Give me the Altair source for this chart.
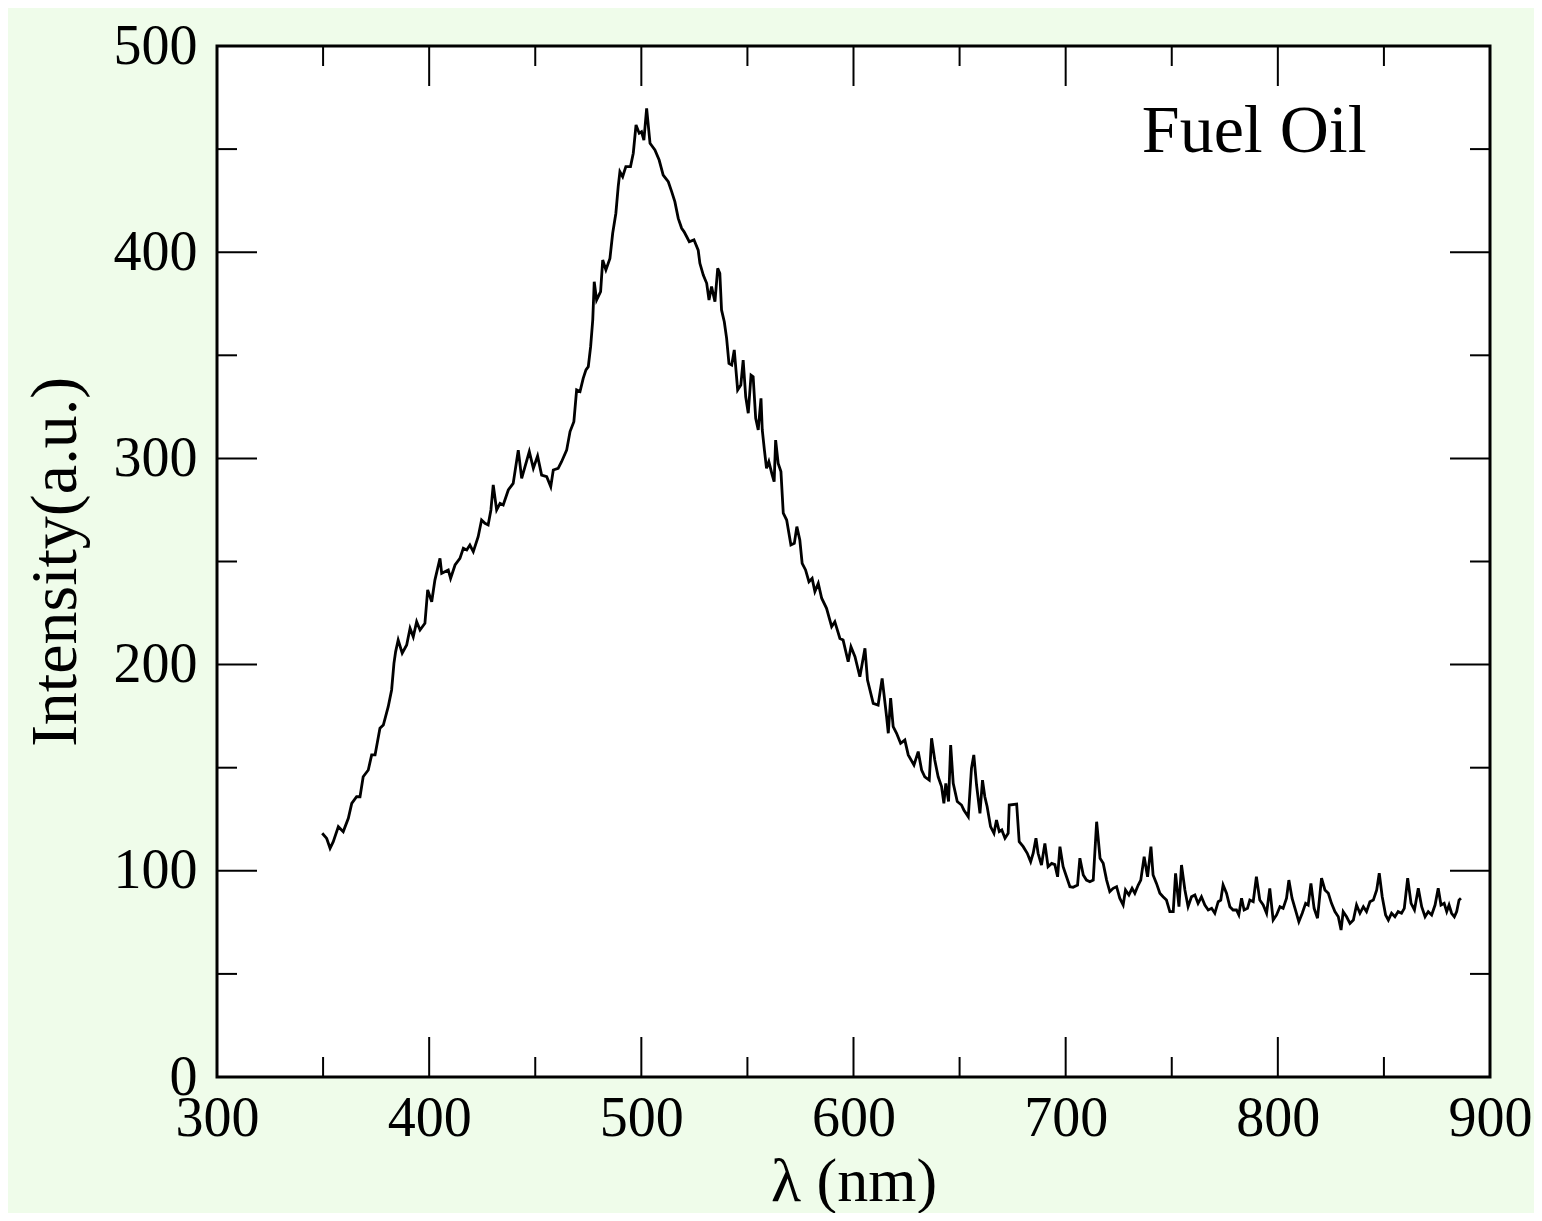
import altair as alt
import pandas as pd

wavelength = [
    349.6, 351.7, 353.3, 354.8, 357.2, 359.5, 361.9, 363.5, 365.8, 367.4,
    368.9, 371.3, 372.9, 374.5, 376.8, 378.4, 380.7, 382.3, 383.4, 384.2,
    385.4, 387.3, 389.4, 391.0, 392.5, 394.1, 395.7, 398.0, 399.3, 401.2,
    402.7, 405.1, 405.9, 409.0, 410.1, 412.2, 414.5, 416.1, 417.7, 419.2,
    420.8, 423.1, 424.7, 426.3, 427.8, 429.1, 430.2, 431.8, 433.4, 434.9,
    437.3, 439.6, 442.0, 443.6, 447.2, 449.1, 451.1, 453.0, 455.4, 457.3,
    458.5, 460.8, 462.4, 464.8, 466.4, 468.2, 469.5, 471.1, 472.6, 473.9,
    475.0, 476.1, 477.1, 477.8, 478.9, 480.8, 481.8, 483.3, 485.2, 486.5,
    488.0, 489.1, 489.9, 491.2, 492.7, 494.9, 496.2, 497.5, 499.0, 500.1,
    501.2, 502.5, 504.1, 506.4, 508.4, 510.3, 512.7, 514.3, 515.8, 517.4,
    519.0, 520.1, 521.4, 522.6, 524.8, 526.8, 527.6, 529.2, 530.8, 531.9,
    533.1, 534.7, 536.0, 537.0, 537.8, 539.1, 540.2, 541.3, 542.6, 543.8,
    545.4, 546.9, 548.0, 549.2, 550.4, 551.7, 552.7, 553.9, 555.1, 556.4,
    557.0, 558.0, 559.0, 560.1, 561.7, 562.6, 563.3, 564.5, 565.8, 566.9,
    568.5, 570.5, 572.1, 573.3, 574.7, 575.8, 577.4, 579.0, 580.5, 581.8,
    583.4, 585.0, 587.3, 589.7, 591.2, 593.6, 595.1, 597.5, 598.8, 600.7,
    603.0, 605.4, 606.6, 609.3, 611.6, 613.5, 615.6, 616.4, 617.5, 618.7,
    620.3, 622.2, 624.2, 625.8, 628.5, 630.5, 632.1, 633.6, 635.7, 636.8,
    638.3, 639.9, 641.5, 642.6, 643.5, 644.8, 645.8, 647.0, 648.9, 650.9,
    652.0, 654.1, 655.6, 656.7, 658.0, 659.6, 660.8, 661.9, 663.0, 664.6,
    666.2, 667.4, 668.7, 669.9, 671.4, 672.9, 673.4, 676.9, 678.1, 680.0,
    681.9, 683.5, 684.7, 686.0, 687.0, 688.6, 690.2, 691.7, 693.4, 694.9,
    696.2, 697.3, 698.8, 700.4, 702.0, 703.5, 705.6, 706.7, 708.3, 709.8,
    711.4, 713.0, 714.6, 716.2, 717.7, 719.3, 720.8, 722.4, 724.0, 725.5,
    727.1, 728.2, 729.8, 731.3, 732.6, 734.2, 735.4, 737.0, 738.6, 740.2,
    741.2, 742.8, 744.4, 745.9, 747.5, 749.1, 750.7, 751.8, 753.4, 754.6,
    756.2, 757.7, 759.3, 760.9, 762.4, 764.0, 765.6, 767.2, 768.8, 770.3,
    771.9, 773.1, 774.2, 775.8, 777.4, 778.9, 780.5, 781.6, 782.9, 784.1,
    785.7, 786.8, 788.4, 789.9, 791.5, 793.1, 794.7, 796.2, 797.8, 799.4,
    801.0, 802.5, 804.1, 805.2, 806.7, 808.3, 809.9, 811.5, 813.1, 814.3,
    815.6, 817.1, 818.7, 820.6, 822.2, 823.8, 825.3, 826.9, 828.5, 829.8,
    830.8, 832.4, 834.0, 835.6, 837.1, 838.7, 840.3, 841.8, 843.4, 845.0,
    846.6, 847.8, 849.2, 850.8, 852.1, 853.6, 855.2, 856.7, 858.3, 859.6,
    861.2, 862.8, 864.4, 866.2, 867.8, 869.4, 870.9, 872.5, 874.1, 875.6,
    876.9, 878.4, 879.6, 880.7, 881.9, 883.2, 884.3, 885.4, 886.3,
]

intensity = [
    118.2, 115.7, 110.9, 114.1, 121.4, 119.0, 125.5, 132.7, 135.9, 135.9,
    145.6, 148.9, 156.2, 156.2, 169.1, 170.7, 179.6, 187.7, 200.6, 206.3,
    211.9, 205.5, 209.5, 217.6, 213.5, 220.8, 216.8, 220.0, 236.2, 230.5,
    241.0, 251.5, 244.3, 245.9, 241.8, 248.3, 251.5, 256.4, 255.6, 258.0,
    254.8, 262.0, 270.1, 268.5, 267.7, 275.0, 287.1, 275.0, 278.2, 277.4,
    284.7, 287.9, 304.0, 290.3, 303.3, 295.2, 301.2, 291.9, 291.1, 286.3,
    294.4, 295.2, 298.4, 304.0, 313.0, 317.8, 333.2, 332.4, 338.8, 342.9,
    344.5, 354.2, 367.1, 385.7, 376.8, 380.9, 396.2, 391.4, 397.0, 409.2,
    418.9, 431.8, 439.0, 436.6, 441.5, 441.5, 448.0, 461.7, 457.7, 458.4,
    454.4, 469.8, 452.8, 449.6, 444.7, 437.4, 434.2, 429.4, 424.5, 416.4,
    411.6, 410.0, 407.5, 405.1, 406.0, 401.0, 394.6, 388.9, 384.9, 376.8,
    383.3, 376.0, 392.2, 389.8, 372.0, 366.3, 358.2, 346.1, 345.3, 352.6,
    333.2, 335.6, 347.7, 329.9, 321.9, 340.4, 339.6, 319.4, 313.8, 329.1,
    313.8, 304.1, 295.2, 298.4, 291.9, 288.7, 308.9, 297.6, 293.6, 273.4,
    270.1, 258.0, 258.8, 266.9, 260.4, 249.1, 245.9, 240.2, 241.8, 235.4,
    239.4, 232.2, 227.3, 218.4, 220.8, 212.7, 211.9, 201.4, 208.7, 203.8,
    194.1, 207.9, 192.5, 181.2, 180.4, 193.3, 174.7, 166.7, 183.7, 169.9,
    166.7, 161.8, 163.4, 156.2, 151.3, 157.8, 148.9, 145.6, 144.0, 164.3,
    153.7, 145.6, 140.8, 132.7, 142.4, 133.6, 161.0, 142.4, 133.6, 131.9,
    129.5, 126.2, 149.7, 156.2, 141.6, 127.9, 144.0, 135.9, 131.1, 121.4,
    118.2, 124.6, 119.0, 119.8, 115.8, 118.2, 131.9, 132.4, 114.1, 111.7,
    108.5, 104.4, 108.5, 115.8, 108.5, 102.8, 113.3, 102.0, 103.6, 103.0,
    97.1, 111.7, 102.0, 97.1, 92.3, 92.0, 93.1, 106.1, 98.0, 95.5,
    94.7, 95.5, 123.8, 106.1, 103.6, 95.5, 89.9, 91.5, 92.3, 86.7,
    83.4, 90.7, 88.3, 91.5, 89.1, 93.1, 95.5, 106.8, 97.1, 111.7,
    98.0, 93.9, 89.1, 87.4, 85.8, 80.2, 80.2, 98.8, 82.6, 102.8,
    90.7, 82.6, 87.4, 88.3, 84.2, 87.4, 83.4, 81.0, 81.8, 79.4,
    85.0, 85.8, 93.1, 89.1, 82.6, 81.0, 81.0, 78.6, 86.7, 81.0,
    81.8, 85.8, 85.0, 97.1, 85.8, 83.4, 79.4, 91.5, 76.1, 78.6,
    82.6, 81.8, 86.7, 95.5, 86.7, 81.0, 75.3, 79.4, 84.2, 83.4,
    93.9, 81.8, 77.0, 96.4, 90.7, 89.1, 84.2, 80.2, 77.7, 71.3,
    80.2, 77.7, 74.5, 76.1, 83.4, 79.4, 82.6, 80.2, 85.0, 85.8,
    90.7, 98.8, 87.4, 78.6, 76.1, 79.4, 77.7, 80.2, 79.4, 81.8,
    96.4, 84.2, 81.0, 91.5, 82.6, 77.7, 80.2, 78.6, 83.4, 91.5,
    83.4, 84.2, 80.2, 83.4, 79.4, 77.7, 80.2, 85.8, 86.7,
]

x_ticks = [300, 350, 400, 450, 500, 550, 600, 650, 700, 750, 800, 850, 900]
y_ticks = [0, 50, 100, 150, 200, 250, 300, 350, 400, 450, 500]
x_labels = [300, 400, 500, 600, 700, 800, 900]
y_labels = [0, 100, 200, 300, 400, 500]

annot_text = ["Fuel Oil"]
annot_x = [735.9]
annot_y = [448.6]

W, H = 1273, 1031
FONT = "Liberation Serif"
MAJOR, MINOR = 40, 20

spec = pd.DataFrame({"lam": wavelength, "I": intensity})
xt = pd.DataFrame({"pos": x_ticks})
xt["major"] = xt["pos"] % 100 == 0
yt = pd.DataFrame({"pos": y_ticks})
yt["major"] = yt["pos"] % 100 == 0
ann = pd.DataFrame({"t": annot_text, "x": annot_x, "y": annot_y})

xscale = alt.Scale(domain=[300, 900], nice=False, zero=False)
yscale = alt.Scale(domain=[0, 500], nice=False)

x_axis = alt.Axis(
    values=x_labels, ticks=False, tickSize=0, domain=False, grid=False,
    labelFont=FONT, labelFontSize=56, labelColor="black", labelPadding=14,
    labelFlush=False, labelOverlap=False,
    title="λ (nm)", titleFont=FONT, titleFontSize=62, titleFontWeight="normal",
    titleColor="black", titleX=W / 2, titleY=104, titleBaseline="middle",
    titleAlign="center",
)
y_axis = alt.Axis(
    values=y_labels, ticks=False, tickSize=0, domain=False, grid=False,
    labelFont=FONT, labelFontSize=56, labelColor="black", labelPadding=20,
    labelFlush=False, labelOverlap=False,
    title="Intensity(a.u.)", titleFont=FONT, titleFontSize=66,
    titleFontWeight="normal", titleColor="black", titleX=-162, titleY=H / 2,
    titleAngle=-90, titleBaseline="middle", titleAlign="center",
)

line = alt.Chart(spec).mark_line(color="black", strokeWidth=2.8).encode(
    x=alt.X("lam:Q", scale=xscale, axis=x_axis),
    y=alt.Y("I:Q", scale=yscale, axis=y_axis),
)


def tick_layers(df, field, major):
    sub = df[df["major"] == major]
    L = MAJOR if major else MINOR
    base = alt.Chart(sub).mark_rule(color="black", strokeWidth=2)
    if field == "x":
        bottom = base.encode(x=alt.X("pos:Q", scale=xscale),
                             y=alt.value(H), y2=alt.value(H - L))
        top = base.encode(x=alt.X("pos:Q", scale=xscale),
                          y=alt.value(0), y2=alt.value(L))
        return [bottom, top]
    left = base.encode(y=alt.Y("pos:Q", scale=yscale),
                       x=alt.value(0), x2=alt.value(L))
    right = base.encode(y=alt.Y("pos:Q", scale=yscale),
                        x=alt.value(W), x2=alt.value(W - L))
    return [left, right]


ticks = []
for m in (True, False):
    ticks += tick_layers(xt, "x", m)
    ticks += tick_layers(yt, "y", m)

label = alt.Chart(ann).mark_text(
    font=FONT, fontSize=68, color="black", align="left", baseline="alphabetic"
).encode(x=alt.X("x:Q", scale=xscale), y=alt.Y("y:Q", scale=yscale), text="t:N")

chart = alt.layer(line, *ticks, label).properties(
    width=W, height=H,
    background="#EFFCEA",
    padding={"left": 209, "top": 38, "right": 44, "bottom": 136},
    autosize=alt.AutoSizeParams(type="none"),
).configure_view(
    fill="white", stroke="black", strokeWidth=3
)

chart.save("out.html", embed_options={"renderer": "svg", "actions": False})
